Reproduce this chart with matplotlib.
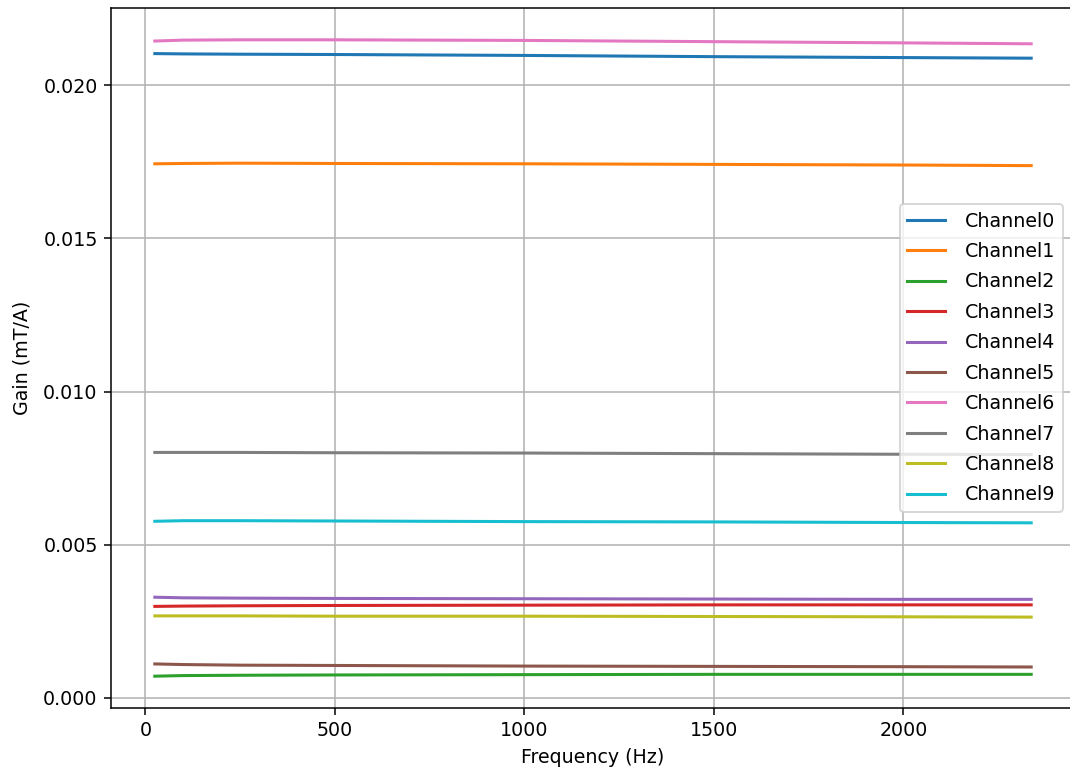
import numpy as np
import matplotlib
matplotlib.use('Agg')
import matplotlib.pyplot as plt

# frequency points (Hz)
freq = [25, 100, 250, 500, 1000, 1500, 2000, 2337]

ch0 = [0.02104, 0.02103, 0.02102, 0.02101, 0.02098, 0.02094, 0.02091, 0.02089]
ch1 = [0.01744, 0.01745, 0.01746, 0.01745, 0.01744, 0.01742, 0.01740, 0.01738]
ch2 = [0.00070, 0.00072, 0.00073, 0.00074, 0.00075, 0.00076, 0.00076, 0.00076]
ch3 = [0.00298, 0.00299, 0.00300, 0.00301, 0.00302, 0.00303, 0.00303, 0.00303]
ch4 = [0.00328, 0.00326, 0.00325, 0.00324, 0.00323, 0.00322, 0.00321, 0.00321]
ch5 = [0.00110, 0.00108, 0.00106, 0.00105, 0.00103, 0.00102, 0.00101, 0.00100]
ch6 = [0.02145, 0.02148, 0.02149, 0.02149, 0.02147, 0.02143, 0.02139, 0.02136]
ch7 = [0.00801, 0.00801, 0.00801, 0.00800, 0.00799, 0.00797, 0.00795, 0.00794]
ch8 = [0.00267, 0.00267, 0.00267, 0.00266, 0.00266, 0.00265, 0.00264, 0.00263]
ch9 = [0.00576, 0.00578, 0.00578, 0.00577, 0.00575, 0.00574, 0.00572, 0.00571]

channels = [ch0, ch1, ch2, ch3, ch4, ch5, ch6, ch7, ch8, ch9]
labels = ['Channel{}'.format(i) for i in range(len(channels))]


def main():
    dpi = 137
    fig = plt.figure(figsize=(1070 / dpi, 772 / dpi), dpi=dpi)
    # the original picture is cut off on the right, just past the right spine
    ax = fig.add_axes([111 / 1070, 64 / 772, 964 / 1070, 700 / 772])

    for vals, lab in zip(channels, labels):
        ax.plot(freq, vals, label=lab, linewidth=1.6)

    ax.set_xlabel('Frequency (Hz)')
    ax.set_ylabel('Gain (mT/A)', labelpad=6)
    ax.grid(True)
    ax.legend(loc='center right', bbox_to_anchor=(0.997, 0.5),
              labelspacing=0.6, handletextpad=1.0)

    fig.savefig('out.png', dpi=dpi)


if __name__ == '__main__':
    main()
